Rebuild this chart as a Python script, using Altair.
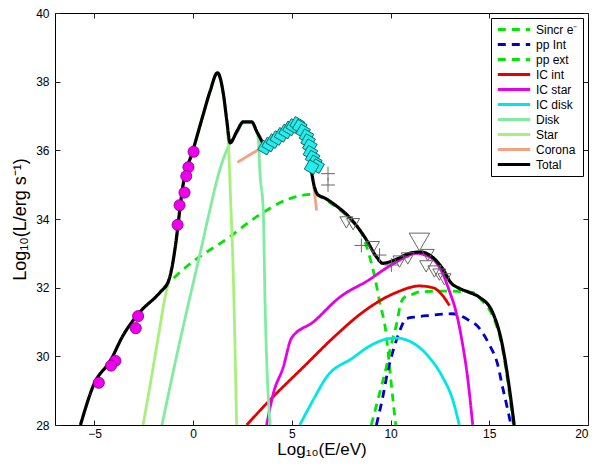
import altair as alt
import pandas as pd

# ---------------- data ----------------
total_x = [-5.71, -5.04, -4.19, -3.54, -2.68, -1.67, -1.26, -1.01, -0.91, -0.51, 0.0, 0.52, 0.86, 1.23,
           1.53, 1.7, 1.87, 2.21, 2.54, 2.96, 3.22, 3.47, 3.64, 4.3, 5.05, 5.27, 5.57, 5.82, 6.0, 6.3,
           6.7, 7.09, 7.93, 8.77, 9.28, 9.61, 10.29, 10.96, 11.5, 12.14, 12.64, 13.06, 13.48, 14.0,
           14.5, 15.15, 15.66, 16.01, 16.26]
total_y = [28.0, 29.17, 29.88, 30.62, 31.3, 31.87, 32.18, 32.8, 33.18, 35.0, 36.02, 37.07, 37.73, 38.26,
           37.64, 36.88, 36.22, 36.55, 36.83, 36.83, 36.55, 36.27, 36.05, 36.4, 36.75, 36.77, 36.55, 36.27,
           35.37, 34.72, 34.6, 34.45, 34.04, 33.4, 32.9, 32.71, 32.83, 33.0, 33.04, 32.88, 32.55, 32.14,
           31.98, 31.86, 31.72, 31.3, 30.33, 29.1, 28.0]

sincr_x = [-1.5, -0.24, 1.7, 3.38, 4.73, 6.08, 7.0, 7.93, 8.6, 8.94, 9.19, 9.44, 9.78, 9.95, 10.12, 10.26]
sincr_y = [32.0, 32.66, 33.42, 34.13, 34.56, 34.72, 34.45, 34.0, 33.5, 32.9, 32.33, 31.6, 30.63, 29.68, 28.73, 28.0]

ppint_x = [9.28, 9.61, 9.86, 10.12, 10.45, 10.79, 11.3, 11.97, 13.15, 13.82, 14.49, 15.0, 15.42, 15.67, 15.93, 16.1]
ppint_y = [28.0, 28.83, 29.58, 30.15, 30.72, 31.1, 31.15, 31.19, 31.24, 31.1, 30.82, 30.34, 29.77, 29.11, 28.45, 28.0]

ppext_x = [9.02, 9.44, 9.78, 10.03, 10.29, 10.54, 10.79, 11.13, 11.46, 12.81, 14.16, 14.67, 15.15, 15.66, 16.0, 16.22]
ppext_y = [28.0, 28.92, 29.68, 30.34, 30.91, 31.58, 31.76, 31.81, 31.88, 31.9, 31.86, 31.6, 31.2, 30.25, 29.0, 28.0]

icint_x = [2.71, 3.89, 5.57, 7.26, 8.6, 10.29, 11.46, 12.14, 12.65, 12.98]
icint_y = [28.0, 28.73, 29.68, 30.63, 31.29, 31.86, 32.05, 32.0, 31.76, 31.48]

icstar_x = [3.72, 4.06, 4.56, 4.98, 6.08, 7.42, 8.94, 9.78, 10.62, 11.3, 11.97, 12.65, 12.98, 13.32, 13.65, 13.9, 14.16]
icstar_y = [28.0, 28.92, 29.68, 30.53, 31.0, 31.72, 32.24, 32.57, 32.85, 33.0, 32.9, 32.4, 31.9, 31.29, 30.34, 29.39, 28.0]

icdisk_x = [5.4, 6.08, 6.75, 8.1, 8.94, 9.78, 10.29, 11.13, 11.97, 12.64, 13.15, 13.48]
icdisk_y = [28.0, 28.73, 29.39, 29.96, 30.3, 30.5, 30.53, 30.39, 29.96, 29.39, 28.73, 28.0]

disk_x = [-1.58, -0.82, -0.15, 0.35, 0.86, 1.28, 1.79, 2.21, 2.54, 2.96, 3.22, 3.3, 3.38, 3.55, 3.64, 3.89]
disk_y = [28.0, 30.06, 31.76, 33.0, 34.3, 35.3, 36.12, 36.5, 36.8, 36.8, 36.52, 36.31, 35.37, 34.23, 31.58, 28.0]

star_x = [-2.54, -2.17, -1.75, -1.41, -1.25, -1.01, -0.91, -0.51, 0.0, 0.52, 0.86, 1.23, 1.53, 1.7, 1.8, 1.9, 2.0, 2.2]
star_y = [28.0, 29.2, 30.63, 31.76, 32.14, 32.78, 33.15, 34.98, 36.0, 37.05, 37.71, 38.24, 37.62, 36.86, 36.0, 34.5, 33.0, 28.0]

corona_x = [2.24, 3.4, 4.5, 5.2, 5.7, 6.0, 6.25]
corona_y = [35.65, 36.05, 36.4, 36.6, 36.2, 35.4, 34.25]

dots_x = [0.02, -0.24, -0.35, -0.44, -0.69, -0.79, -2.79, -2.91, -3.94, -4.16, -4.78]
dots_y = [35.96, 35.51, 35.25, 34.77, 34.40, 33.83, 31.17, 30.82, 29.87, 29.73, 29.23]

sq_x = [3.64, 3.85, 4.06, 4.26, 4.48, 4.70, 4.90, 5.07, 5.27, 5.40, 5.57, 5.74, 5.82, 5.91, 5.94, 6.05, 6.16, 6.28, 6.0]
sq_y = [36.08, 36.17, 36.27, 36.36, 36.45, 36.55, 36.64, 36.71, 36.77, 36.69, 36.55, 36.41, 36.27, 36.12, 35.93, 35.79, 35.65, 35.54, 35.51]

plus_x = [6.83, 6.83, 8.52, 9.44, 10.04]
plus_y = [35.32, 34.99, 33.23, 32.95, 32.66]

tri_x = [7.76, 8.10, 9.11, 10.45, 10.87, 11.88, 11.80, 12.22, 12.47, 12.73]
tri_y = [33.9, 33.85, 33.18, 32.76, 32.85, 32.95, 32.62, 32.47, 32.38, 32.24]
bigtri_x = [11.46]
bigtri_y = [33.33]

x_ticks = [-5, 0, 5, 10, 15, 20]
y_ticks = [28, 30, 32, 34, 36, 38, 40]

names = ["Sincr e⁻", "pp Int", "pp ext", "IC int", "IC star", "IC disk", "Disk", "Star", "Corona", "Total"]
colors = ["#00e600", "#0000cc", "#00e600", "#e60000", "#e600e6", "#00e6e6", "#80eca0", "#a8f07c", "#f4a284", "#000000"]
dashes = [[8, 6], [8, 6], [8, 6], [1, 0], [1, 0], [1, 0], [1, 0], [1, 0], [1, 0], [1, 0]]


def frame(name, xs, ys):
    return pd.DataFrame({"series": name, "x": xs, "y": ys, "i": list(range(len(xs)))})


comp = pd.concat([
    frame("Sincr e⁻", sincr_x, sincr_y),
    frame("pp Int", ppint_x, ppint_y),
    frame("pp ext", ppext_x, ppext_y),
    frame("IC int", icint_x, icint_y),
    frame("IC star", icstar_x, icstar_y),
    frame("IC disk", icdisk_x, icdisk_y),
    frame("Disk", disk_x, disk_y),
    frame("Star", star_x, star_y),
    frame("Corona", corona_x, corona_y),
], ignore_index=True)
tot = frame("Total", total_x, total_y)
dots = pd.DataFrame({"x": dots_x, "y": dots_y})
sqs = pd.DataFrame({"x": sq_x, "y": sq_y})
plus = pd.DataFrame({"x": plus_x, "y": plus_y})
tri = pd.DataFrame({"x": tri_x, "y": tri_y})
bigtri = pd.DataFrame({"x": bigtri_x, "y": bigtri_y})

W, H = 533, 412
FONT = "Liberation Sans"
xs = alt.Scale(domain=[-7, 20], nice=False, zero=False)
ys = alt.Scale(domain=[28, 40], nice=False, zero=False)

leg = alt.Legend(title=None, orient="top-right", offset=5)
color = alt.Color("series:N", scale=alt.Scale(domain=names, range=colors), legend=leg)
dash = alt.StrokeDash("series:N", scale=alt.Scale(domain=names, range=dashes), legend=leg)

x_main = alt.X("x:Q", scale=xs, axis=alt.Axis(values=x_ticks, ticks=False, domain=False, grid=False,
                                               labelPadding=3, title="Log₁₀(E/eV)", titleFontSize=17,
                                               titleFontWeight="normal", titlePadding=2, labelFontSize=12))
y_main = alt.Y("y:Q", scale=ys, axis=alt.Axis(values=y_ticks, ticks=False, domain=False, grid=False,
                                               labelPadding=6, title="Log₁₀(L/erg s⁻¹)", titleFontSize=18,
                                               titleFontWeight="normal", titlePadding=6, labelFontSize=12))
x_none = alt.X("x:Q", scale=xs, axis=None)
y_none = alt.Y("y:Q", scale=ys, axis=None)

components = alt.Chart(comp).mark_line(strokeWidth=2.8, clip=True, interpolate="monotone").encode(
    x=x_main, y=y_main, color=color, strokeDash=dash, order="i:Q")

total_line = alt.Chart(tot).mark_line(strokeWidth=3.2, clip=True, interpolate="monotone").encode(
    x=x_none, y=y_none, color=color, strokeDash=dash, order="i:Q")


def tick_axis(orient_x, orient_y):
    return alt.Chart(tot).mark_line(opacity=0).encode(
        x=alt.X("x:Q", scale=xs, axis=alt.Axis(orient=orient_x, offset=-H, values=x_ticks, labels=False,
                                               title=None, domain=False, grid=False, tickSize=5,
                                               tickColor="#222")),
        y=alt.Y("y:Q", scale=ys, axis=alt.Axis(orient=orient_y, offset=-W, values=y_ticks, labels=False,
                                               title=None, domain=False, grid=False, tickSize=5,
                                               tickColor="#222")),
    )


ticks_a = tick_axis("top", "right")
ticks_b = tick_axis("bottom", "left")

dot_layer = alt.Chart(dots).mark_point(shape="circle", filled=True, size=125, color="#ee00ee",
                                       stroke="#800080", strokeWidth=0.8, opacity=1).encode(x=x_none, y=y_none)
sq_layer = alt.Chart(sqs).mark_point(shape="square", filled=True, size=115, color="#22eeee",
                                     stroke="#115555", strokeWidth=0.8, opacity=1, angle=30).encode(x=x_none, y=y_none)
plus_layer = alt.Chart(plus).mark_point(shape="M-1,0L1,0M0,-1L0,1", filled=False, size=190, color="#666666",
                                        strokeWidth=1, opacity=1).encode(x=x_none, y=y_none)
tri_layer = alt.Chart(tri).mark_point(shape="triangle-down", filled=False, size=170, color="#666666",
                                      strokeWidth=1, opacity=1).encode(x=x_none, y=y_none)
bigtri_layer = alt.Chart(bigtri).mark_point(shape="triangle-down", filled=False, size=420, color="#666666",
                                            strokeWidth=1, opacity=1).encode(x=x_none, y=y_none)

chart = alt.layer(
    components, total_line, ticks_a, ticks_b, dot_layer, sq_layer, plus_layer, tri_layer, bigtri_layer
).resolve_axis(x="independent", y="independent").properties(
    width=W, height=H, autosize="none",
    padding={"left": 47, "top": 5, "right": 19, "bottom": 35},
).configure_view(stroke="black", strokeWidth=1).configure_axis(
    labelFont=FONT, titleFont=FONT, labelColor="black", titleColor="black"
).configure_legend(
    labelFont=FONT, labelFontSize=12, labelColor="black", strokeColor="black", fillColor="white",
    padding=5, symbolType="stroke", symbolSize=1050, symbolStrokeWidth=3, clipHeight=13, rowPadding=2,
    labelOffset=4, labelLimit=200,
)

chart.save("out.html", embed_options={"renderer": "svg", "actions": False})
